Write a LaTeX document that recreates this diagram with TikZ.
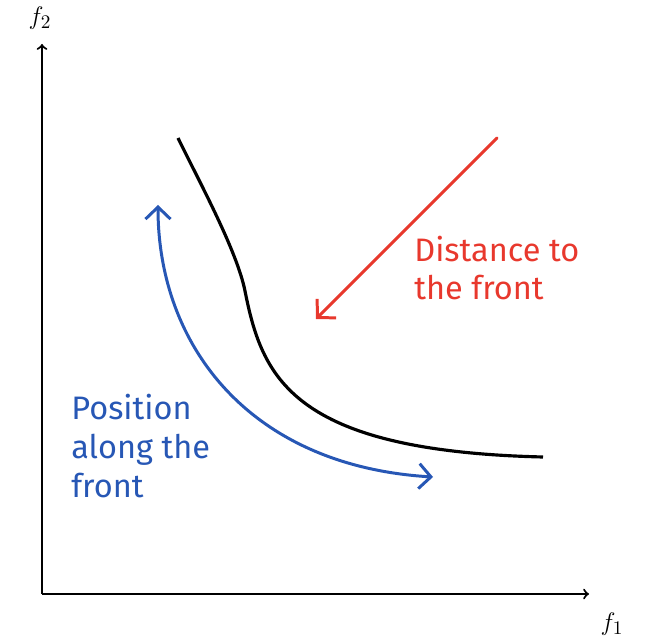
\documentclass[tikz,border=0pt]{standalone}
\usepackage{fontspec}
\setsansfont{Fira Sans}
\usepackage{tikz}
\usetikzlibrary{arrows.meta}
\definecolor{front}{HTML}{000000}
\definecolor{dist}{HTML}{E8382D}
\definecolor{pos}{HTML}{2757B5}
\tikzset{
  axis/.style={-to, line width=1.2pt, draw=black},
  frontline/.style={line width=1.8pt, draw=front},
  barb/.style={line width=1.7pt, line cap=round, line join=round},
  label/.style={font=\sffamily\fontsize{18.5}{22}\selectfont, align=left, anchor=west, inner sep=0pt},
  axlabel/.style={font=\fontsize{15}{18}\selectfont}
}
\begin{document}
\begin{tikzpicture}[x=0.02cm,y=0.02cm]
        \useasboundingbox (0,0) rectangle (649,636);

        % axes
        \coordinate (o) at (42,42);
        \coordinate (xend) at (589,42);
        \coordinate (yend) at (42,592);
        \draw[axis] (o) -- (xend);
        \draw[axis] (o) -- (yend);
        \node[axlabel] (f1) at (612,12) {$f_1$};
        \node[axlabel] (f2) at (40,618) {$f_2$};

        % pareto front
        \coordinate (ftop) at (178,498);
        \coordinate (fmid) at (245,345);
        \coordinate (fend) at (543,179);
        \draw[frontline] (ftop) .. controls (200,453) and (237,385) .. (fmid)
          .. controls (262,260) and (290,185) .. (fend);

        % distance to the front
        \coordinate (dstart) at (497,498);
        \coordinate (dend) at (316,317);
        \draw[barb, draw=dist, -{Straight Barb[length=2.6mm,width=5.4mm]}] (dstart) -- (dend);
        \node[label, text=dist] (dlab) at (414,368) {Distance to\\the front};

        % position along the front
        \coordinate (pstart) at (158,431);
        \coordinate (pend) at (433,159);
        \draw[barb, draw=pos, {Straight Barb[length=2.4mm,width=5mm]}-{Straight Barb[length=2.4mm,width=5mm]}]
          (pstart) .. controls (158,290) and (250,170) .. (pend);
        \node[label, text=pos] (plab) at (71,190) {Position\\along the\\front};
      \end{tikzpicture}
\end{document}
